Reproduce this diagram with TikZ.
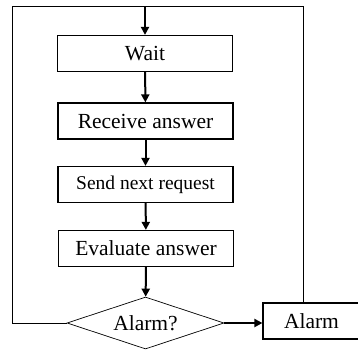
\documentclass[tikz,border=0pt]{standalone}
\usepackage{fontspec}
\setmainfont{Liberation Serif}
\usetikzlibrary{shapes.geometric,arrows.meta}

\tikzset{
    box/.style={rectangle, draw, line width=1.2pt, minimum width=175pt, minimum height=36pt,
        inner sep=0pt, font=\fontsize{21.5}{25}\selectfont},
    decision/.style={diamond, draw, line width=0.7pt, aspect=3, minimum width=157pt,
        minimum height=52pt, inner sep=0pt, font=\fontsize{21.5}{25}\selectfont},
    flow/.style={line width=2pt, -{Triangle[length=8pt,width=8pt]}},
    loop/.style={line width=1pt}
}

\begin{document}
\begin{tikzpicture}[x=1pt, y=-1pt]
    \useasboundingbox (0,0) rectangle (358,350);
    \node[box] (wait) at (145,53.5) {Wait};
    \node[box] (receive) at (145.5,121) {Receive answer};
    \node[box, font=\fontsize{19.5}{23}\selectfont] (send) at (145.5,184.5) {Send next request};
    \node[box] (evaluate) at (146,248.5) {Evaluate answer};
    \node[decision] (alarmq) at (145.5,323) {Alarm?};
    \node[box, minimum width=97pt] (alarm) at (311.5,321) {Alarm};
    \coordinate (topleft) at (12,7);
    \coordinate (topright) at (303,7);
    \coordinate (entry) at (145,7);

    \draw[loop] (alarmq.west) -| (topleft) -- (topright) -- (topright |- alarm.north);
    \draw[flow] (entry) -- (wait.north);
    \draw[flow] (wait) -- (receive);
    \draw[flow] (receive) -- (send);
    \draw[flow] (send) -- (evaluate);
    \draw[flow] (evaluate) -- (alarmq);
    \draw[flow] (alarmq.east) -- (alarmq.east -| alarm.west);
\end{tikzpicture}
\end{document}
